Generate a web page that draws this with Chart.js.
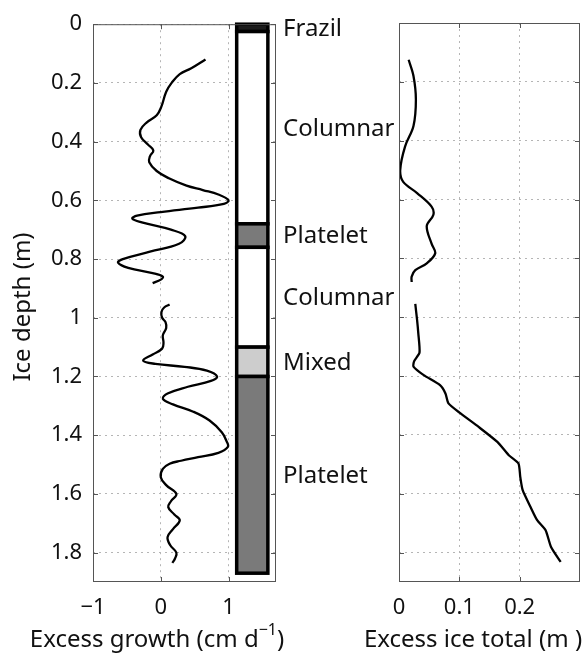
<!DOCTYPE html>
<html>
<head>
<meta charset="utf-8">
<script src="https://cdn.jsdelivr.net/npm/chart.js@4.4.1/dist/chart.umd.min.js"></script>
<style>
  html, body { margin: 0; padding: 0; background: #fff; }
  #wrap { position: relative; width: 583px; height: 653px; overflow: hidden; }
  #left { position: absolute; left: 0; top: 0; width: 398px; height: 653px; }
  #right { position: absolute; left: 350px; top: 0; width: 233px; height: 653px; }
</style>
</head>
<body>
<div id="wrap">
  <canvas id="left" width="398" height="653"></canvas>
  <canvas id="right" width="233" height="653"></canvas>
</div>
<script>
// excess growth (cm/d) vs depth (m), two measured sections
const growthDepthA = [0.12, 0.15, 0.17, 0.20, 0.23, 0.28, 0.31, 0.335, 0.36, 0.385, 0.41, 0.43, 0.45, 0.47, 0.50, 0.525, 0.55, 0.565, 0.58, 0.60, 0.612, 0.625, 0.64, 0.652, 0.662, 0.675, 0.70, 0.722, 0.748, 0.775, 0.80, 0.812, 0.83, 0.848, 0.86, 0.87, 0.882];
const growthA      = [0.66, 0.45, 0.28, 0.16, 0.08, 0.01, -0.06, -0.21, -0.30, -0.29, -0.19, -0.11, -0.16, -0.17, -0.06, 0.12, 0.38, 0.62, 0.85, 1.0, 0.93, 0.55, 0.0, -0.35, -0.42, -0.28, 0.15, 0.36, 0.27, -0.16, -0.56, -0.63, -0.48, -0.12, 0.03, 0.0, -0.12];
const growthDepthB = [0.955, 0.965, 0.98, 1.0, 1.015, 1.035, 1.06, 1.085, 1.105, 1.125, 1.146, 1.157, 1.167, 1.18, 1.20, 1.215, 1.235, 1.258, 1.276, 1.295, 1.32, 1.35, 1.39, 1.42, 1.44, 1.46, 1.475, 1.487, 1.497, 1.515, 1.543, 1.57, 1.60, 1.625, 1.645, 1.67, 1.69, 1.72, 1.747, 1.775, 1.80, 1.82, 1.835];
const growthB      = [0.13, 0.05, 0.01, 0.02, 0.07, 0.08, 0.03, 0.04, 0.02, -0.12, -0.26, -0.08, 0.35, 0.68, 0.83, 0.74, 0.40, 0.10, 0.03, 0.18, 0.48, 0.72, 0.90, 0.97, 0.99, 0.85, 0.55, 0.30, 0.13, 0.03, 0.0, 0.08, 0.23, 0.15, 0.11, 0.20, 0.28, 0.18, 0.10, 0.14, 0.23, 0.21, 0.17];

// excess ice total (m) vs depth (m)
const iceDepthA = [0.125, 0.18, 0.26, 0.35, 0.42, 0.50, 0.54, 0.578, 0.624, 0.652, 0.69, 0.75, 0.783, 0.817, 0.84, 0.862, 0.88];
const iceA      = [0.016, 0.024, 0.028, 0.024, 0.010, 0.002, 0.007, 0.030, 0.054, 0.057, 0.046, 0.054, 0.060, 0.046, 0.027, 0.021, 0.021];
const iceDepthB = [0.955, 1.01, 1.055, 1.12, 1.15, 1.168, 1.197, 1.231, 1.259, 1.293, 1.327, 1.373, 1.424, 1.469, 1.497, 1.543, 1.588, 1.645, 1.69, 1.724, 1.781, 1.832];
const iceB      = [0.027, 0.030, 0.032, 0.034, 0.025, 0.024, 0.041, 0.068, 0.077, 0.082, 0.102, 0.132, 0.163, 0.182, 0.198, 0.201, 0.205, 0.218, 0.229, 0.243, 0.252, 0.268];

// ice texture layers
const layerName   = ["Frazil", "Columnar", "Platelet", "Columnar", "Mixed", "Platelet"];
const layerTop    = [0, 0.025, 0.68, 0.76, 1.10, 1.20];
const layerBottom = [0.025, 0.68, 0.76, 1.10, 1.20, 1.87];

const depthTicks = [0, 0.2, 0.4, 0.6, 0.8, 1, 1.2, 1.4, 1.6, 1.8];
const growthTicks = [-1, 0, 1];
const iceTicks = [0, 0.1, 0.2];

const texColor = { Frazil: "#1c1c1c", Columnar: "#ffffff", Platelet: "#7a7a7a", Mixed: "#cdcdcd" };
const FONT = '"Noto Sans", "DejaVu Sans", sans-serif';

function pts(ys, xs) {
  return ys.map((d, i) => ({ x: xs[i], y: d }));
}
function fmt(v) {
  return String(v).replace("-", "\u2212");
}

// box round the plot with little inward ticks, like matlab
function frameAndTicks(chart, xt, yt) {
  const { ctx, chartArea: a, scales: { x, y } } = chart;
  ctx.save();
  ctx.strokeStyle = "#555";
  ctx.lineWidth = 1;
  ctx.strokeRect(a.left + 0.5, a.top + 0.5, a.width - 1, a.height - 1);
  ctx.beginPath();
  xt.forEach(v => {
    const px = Math.round(x.getPixelForValue(v)) + 0.5;
    ctx.moveTo(px, a.bottom); ctx.lineTo(px, a.bottom - 5);
    ctx.moveTo(px, a.top); ctx.lineTo(px, a.top + 5);
  });
  yt.forEach(v => {
    const py = Math.round(y.getPixelForValue(v)) + 0.5;
    ctx.moveTo(a.left, py); ctx.lineTo(a.left + 5, py);
    ctx.moveTo(a.right, py); ctx.lineTo(a.right - 5, py);
  });
  ctx.stroke();
  ctx.restore();
}

function xTitle(ctx, cx, base, main, sup, tail) {
  ctx.save();
  ctx.fillStyle = "#111";
  ctx.textBaseline = "alphabetic";
  ctx.textAlign = "left";
  const big = "24px " + FONT, small = "16px " + FONT;
  ctx.font = big;
  const w1 = ctx.measureText(main).width;
  const w3 = tail ? ctx.measureText(tail).width : 0;
  ctx.font = small;
  const w2 = sup ? ctx.measureText(sup).width : 0;
  let x0 = cx - (w1 + w2 + w3) / 2;
  ctx.font = big;
  ctx.fillText(main, x0, base);
  if (sup) {
    ctx.font = small;
    ctx.fillText(sup, x0 + w1, base - 12);
  }
  if (tail) {
    ctx.font = big;
    ctx.fillText(tail, x0 + w1 + w2, base);
  }
  ctx.restore();
}

const leftDeco = {
  id: "leftDeco",
  afterDatasetsDraw(chart) {
    const { ctx, chartArea: a, scales: { x, y } } = chart;
    const x0 = x.getPixelForValue(1.12), x1 = x.getPixelForValue(1.58);
    ctx.save();
    ctx.strokeStyle = "#000";
    ctx.lineWidth = 3.5;
    layerName.forEach((n, i) => {
      const y0 = y.getPixelForValue(layerTop[i]), y1 = y.getPixelForValue(layerBottom[i]);
      ctx.fillStyle = texColor[n];
      ctx.fillRect(x0, y0, x1 - x0, y1 - y0);
      ctx.strokeRect(x0, y0, x1 - x0, y1 - y0);
    });
    ctx.fillStyle = "#111";
    ctx.font = "24px " + FONT;
    ctx.textBaseline = "middle";
    ctx.textAlign = "left";
    layerName.forEach((n, i) => {
      const mid = (layerTop[i] + layerBottom[i]) / 2;
      ctx.fillText(n, a.right + 7, y.getPixelForValue(mid) + 1);
    });
    ctx.restore();
  },
  afterDraw(chart) {
    const ctx = chart.ctx;
    frameAndTicks(chart, growthTicks, depthTicks);
    ctx.save();
    ctx.translate(23, 307);
    ctx.rotate(-Math.PI / 2);
    ctx.fillStyle = "#111";
    ctx.font = "24px " + FONT;
    ctx.textAlign = "center";
    ctx.textBaseline = "middle";
    ctx.fillText("Ice depth (m)", 0, 0);
    ctx.restore();
    xTitle(ctx, 157, 647, "Excess growth (cm d", "\u22121", ")");
  }
};

const rightDeco = {
  id: "rightDeco",
  afterDraw(chart) {
    frameAndTicks(chart, iceTicks, depthTicks);
    xTitle(chart.ctx, 123, 647, "Excess ice total (m )", "", "");
  }
};

function depthAxis(showLabels, width) {
  return {
    type: "linear",
    min: 0,
    max: 1.9,
    reverse: true,
    afterBuildTicks: s => { s.ticks = depthTicks.map(v => ({ value: v })); },
    afterFit: s => { s.width = width; },
    grid: { color: "#b5b5b5", drawTicks: false, lineWidth: 1 },
    border: { display: false, dash: [2, 4] },
    ticks: { display: showLabels, padding: 11, color: "#111", font: { family: FONT, size: 22 }, callback: v => fmt(v) }
  };
}

function valueAxis(min, max, tickVals) {
  return {
    type: "linear",
    min: min,
    max: max,
    afterBuildTicks: s => { s.ticks = tickVals.map(v => ({ value: v })); },
    afterFit: s => { s.height = 71; },
    grid: { color: "#b5b5b5", drawTicks: false, lineWidth: 1 },
    border: { display: false, dash: [2, 4] },
    ticks: { padding: 13, maxRotation: 0, color: "#111", font: { family: FONT, size: 22 }, callback: v => fmt(v) }
  };
}

const lineStyle = { borderColor: "#000", borderWidth: 2.3, pointRadius: 0, showLine: true, fill: false };

new Chart(document.getElementById("left"), {
  type: "scatter",
  data: {
    datasets: [
      { ...lineStyle, data: pts(growthDepthA, growthA), tension: 0.4 },
      { ...lineStyle, data: pts(growthDepthB, growthB), tension: 0.4 }
    ]
  },
  options: {
    responsive: false,
    animation: false,
    layout: { padding: { left: 0, top: 23, right: 122, bottom: 0 } },
    plugins: { legend: { display: false }, tooltip: { enabled: false } },
    scales: {
      x: valueAxis(-1, 1.7, growthTicks),
      y: depthAxis(true, 93)
    }
  },
  plugins: [leftDeco]
});

new Chart(document.getElementById("right"), {
  type: "scatter",
  data: {
    datasets: [
      { ...lineStyle, data: pts(iceDepthA, iceA), tension: 0.35 },
      { ...lineStyle, data: pts(iceDepthB, iceB), tension: 0.2 }
    ]
  },
  options: {
    responsive: false,
    animation: false,
    layout: { padding: { left: 0, top: 23, right: 3, bottom: 0 } },
    plugins: { legend: { display: false }, tooltip: { enabled: false } },
    scales: {
      x: valueAxis(0, 0.3, iceTicks),
      y: depthAxis(false, 49)
    }
  },
  plugins: [rightDeco]
});
</script>
</body>
</html>
